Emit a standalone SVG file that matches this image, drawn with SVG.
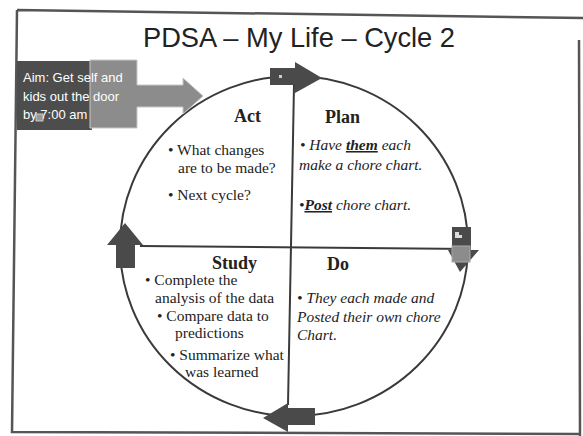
<svg xmlns="http://www.w3.org/2000/svg" width="583" height="436" viewBox="0 0 583 436">
<style>
.frame{fill:none;stroke:#555;stroke-width:2.5}
.line{fill:none;stroke:#3a3a3a;stroke-width:2}
.arrow{fill:#4a4a4a}
.head{font-family:"Liberation Serif",serif;font-weight:bold;font-size:18px;fill:#222}
.body{font-family:"Liberation Serif",serif;font-size:15.5px;fill:#222}
.it{font-family:"Liberation Serif",serif;font-style:italic;font-size:15.5px;fill:#222}
.bi{font-weight:bold;text-decoration:underline}
.title{font-family:"Liberation Sans",Arial,sans-serif;font-size:28px;fill:#222}
.aim{font-family:"Liberation Sans",Arial,sans-serif;font-size:13px;fill:#fff}
</style>
<rect width="583" height="436" fill="#fff"/>
<path class="frame" d="M17,10 L583,18 M17,10 L12,432 L579,434 M579,40 L580,436"/>
<g id="title">
<text class="title" x="143" y="47" textLength="312" lengthAdjust="spacingAndGlyphs">PDSA – My Life – Cycle 2</text>
</g>
<g id="connectors">
<ellipse class="line" cx="294" cy="246" rx="174" ry="170"/>
<path class="line" d="M294,85 L288,405"/>
<path class="line" d="M140,246 L470,249"/>
<path class="arrow" d="M270,68 H295 V62 L322,78 L295,93 V85 H270 Z"/>
<rect x="279" y="75" width="3" height="3" fill="#ccc"/>
<path class="arrow" d="M452,227 H471 V250 H479 L460,272 L448,250 H452 Z"/>
<rect x="452" y="246" width="18" height="16" fill="#8c8c8c" stroke="#aaa" stroke-width="1"/>
<path d="M455,232 h4 v3 h3 v3 h-7 z" fill="#ddd"/>
<path class="arrow" d="M315,408 H288 V403 L263,418 L288,432 V425 H315 Z"/>
<path class="arrow" d="M116,268 V245 H107 L125,223 L143,245 H135 V268 Z"/>
</g>
<g id="aim">
<rect x="17" y="61" width="75" height="69" fill="#4d4d4d"/>
<path d="M90,60 H137 V85 H183 V78 L203,96 L183,114 V107 H137 V128 H90 Z" fill="#8c8c8c" stroke="#c8c8c8" stroke-width="1"/>
<text class="aim" x="23" y="82">Aim: Get self and</text>
<text class="aim" x="23" y="101">kids out the door</text>
<text class="aim" x="23" y="119">by 7:00 am</text>
<rect x="36" y="114" width="7" height="7" fill="#999" stroke="#ddd" stroke-width="0.8"/>
</g>
<g id="act">
<text class="head" x="234" y="122">Act</text>
<text class="body" x="168" y="155">• What changes</text>
<text class="body" x="178" y="173">are to be made?</text>
<text class="body" x="168" y="200">• Next cycle?</text>
</g>
<g id="plan">
<text class="head" x="325" y="123">Plan</text>
<text class="it" x="300" y="150">• Have <tspan class="bi">them</tspan> each</text>
<text class="it" x="299" y="170">make a chore chart.</text>
<text class="it" x="299" y="210">•<tspan class="bi">Post</tspan> chore chart.</text>
</g>
<g id="do">
<text class="head" x="327" y="270">Do</text>
<text class="it" x="297" y="303">• They each made and</text>
<text class="it" x="297" y="322">Posted their own chore</text>
<text class="it" x="297" y="340">Chart.</text>
</g>
<g id="study">
<text class="head" x="212" y="269">Study</text>
<text class="body" x="145" y="285">• Complete the</text>
<text class="body" x="155" y="303">analysis of the data</text>
<text class="body" x="157" y="321">• Compare data to</text>
<text class="body" x="175" y="338">predictions</text>
<text class="body" x="170" y="360">• Summarize what</text>
<text class="body" x="185" y="377">was learned</text>
</g>
</svg>
